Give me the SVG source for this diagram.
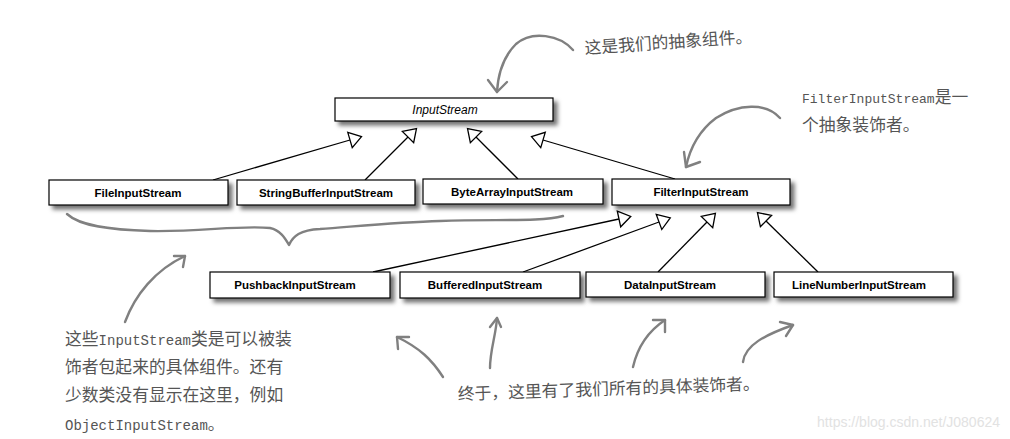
<svg xmlns="http://www.w3.org/2000/svg" width="1010" height="439" viewBox="0 0 1010 439">
<style>
.box{fill:#fff;stroke:#000;stroke-width:1.2;filter:url(#sh)}
.lbl{font-family:"Liberation Sans",Arial,sans-serif;font-size:11.5px;font-weight:bold;fill:#000;text-anchor:middle}
.abs{font-style:italic;font-weight:normal;font-size:12px}
.edge{stroke:#000;stroke-width:1.3;fill:none;marker-end:url(#tri)}
.hand{stroke:#808080;stroke-width:2.4;fill:none;stroke-linecap:round;stroke-linejoin:round}
.note{font-family:"Noto Sans CJK SC","Liberation Sans",sans-serif;font-size:16.8px;fill:#555}
.mono{font-family:"Liberation Mono","Noto Sans CJK SC",monospace;font-size:14px}
.mono13{font-family:"Liberation Mono","Noto Sans CJK SC",monospace;font-size:13px}
.wm{font-family:"Liberation Sans",Arial,sans-serif;font-size:14px;fill:#e2e2e2;text-anchor:end}
</style>
<defs>
<filter id="sh" x="-10%" y="-40%" width="130%" height="200%">
<feDropShadow dx="4" dy="4" stdDeviation="2" flood-color="#000" flood-opacity="0.55"/>
</filter>
<marker id="tri" markerUnits="userSpaceOnUse" markerWidth="16" markerHeight="20" refX="1" refY="9" orient="auto" viewBox="0 0 16 18" overflow="visible">
<path d="M1,1 L13,9 L1,17 Z" fill="#fff" stroke="#000" stroke-width="1.3" stroke-linejoin="miter"/>
</marker>
</defs>
<rect width="1010" height="439" fill="#fff"/>

<g id="connectors">
<line class="edge" x1="213" y1="180" x2="350" y2="140"/>
<line class="edge" x1="365" y1="180" x2="408" y2="137"/>
<line class="edge" x1="518" y1="179" x2="476" y2="137"/>
<line class="edge" x1="675" y1="179" x2="543" y2="140"/>
<line class="edge" x1="373" y1="272" x2="619" y2="219"/>
<line class="edge" x1="523" y1="272" x2="659" y2="222"/>
<line class="edge" x1="658" y1="272" x2="707" y2="222"/>
<line class="edge" x1="818" y1="272" x2="766" y2="221"/>
</g>

<g id="InputStream"><rect class="box" x="335" y="98" width="218" height="23"/><text class="lbl abs" x="445" y="113.5">InputStream</text></g>
<g id="FileInputStream"><rect class="box" x="49" y="180" width="179" height="25"/><text class="lbl" x="138" y="196.5">FileInputStream</text></g>
<g id="StringBufferInputStream"><rect class="box" x="237" y="180" width="178" height="25"/><text class="lbl" x="326" y="196.5">StringBufferInputStream</text></g>
<g id="ByteArrayInputStream"><rect class="box" x="423" y="179" width="180" height="25"/><text class="lbl" x="512" y="195.5">ByteArrayInputStream</text></g>
<g id="FilterInputStream"><rect class="box" x="612" y="179" width="178" height="26"/><text class="lbl" x="701" y="196">FilterInputStream</text></g>
<g id="PushbackInputStream"><rect class="box" x="210" y="272" width="180" height="26"/><text class="lbl" x="295" y="288.5">PushbackInputStream</text></g>
<g id="BufferedInputStream"><rect class="box" x="400" y="272" width="180" height="26"/><text class="lbl" x="485" y="288.5">BufferedInputStream</text></g>
<g id="DataInputStream"><rect class="box" x="586" y="272" width="179" height="25"/><text class="lbl" x="670" y="288.5">DataInputStream</text></g>
<g id="LineNumberInputStream"><rect class="box" x="774" y="272" width="179" height="25"/><text class="lbl" x="859" y="288.5">LineNumberInputStream</text></g>

<g id="annotations">
<path class="hand" d="M573,50 C560,35 532,30 516,44 C504,56 498,74 497,92"/>
<path class="hand" d="M488,80 L497,92 L507,82"/>
<path class="hand" d="M780,118 C766,102 738,104 716,118 C700,130 690,148 686,167"/>
<path class="hand" d="M684,152 L686,167 L700,162"/>
<path class="hand" d="M67,214 C80,226 110,230 150,231 C200,232 240,225 270,228 C280,230 285,238 289,245 C293,236 300,230 320,229 C360,226 400,222 440,221 C500,219 540,222 563,216"/>
<path class="hand" d="M125,322 C135,295 155,270 185,256"/>
<path class="hand" d="M174,256 L185,256 L183,267"/>
<path class="hand" d="M443,377 C432,360 420,348 397,337"/>
<path class="hand" d="M398,349 L397,337 L409,337"/>
<path class="hand" d="M490,368 C490,350 496,335 497,318"/>
<path class="hand" d="M490,327 L497,318 L501,327"/>
<path class="hand" d="M633,367 C638,345 650,330 665,320"/>
<path class="hand" d="M653,320 L665,320 L665,332"/>
<path class="hand" d="M743,362 C745,345 765,335 793,325"/>
<path class="hand" d="M780,322 L793,325 L786,336"/>

<text class="note" x="585" y="54" transform="rotate(-4 585 54)">这是我们的抽象组件。</text>
<text class="note" x="802" y="103"><tspan class="mono13">FilterInputStream</tspan>是一</text>
<text class="note" x="802" y="131">个抽象装饰者。</text>
<text class="note" x="65" y="345">这些<tspan class="mono">InputStream</tspan>类是可以被装</text>
<text class="note" x="65" y="373">饰者包起来的具体组件。还有</text>
<text class="note" x="65" y="401">少数类没有显示在这里，例如</text>
<text class="note" x="65" y="430"><tspan class="mono">ObjectInputStream</tspan>。</text>
<text class="note" x="458" y="400" transform="rotate(-2 458 400)">终于，这里有了我们所有的具体装饰者。</text>
<text class="wm" x="1000" y="427">https://blog.csdn.net/J080624</text>
</g>
</svg>
